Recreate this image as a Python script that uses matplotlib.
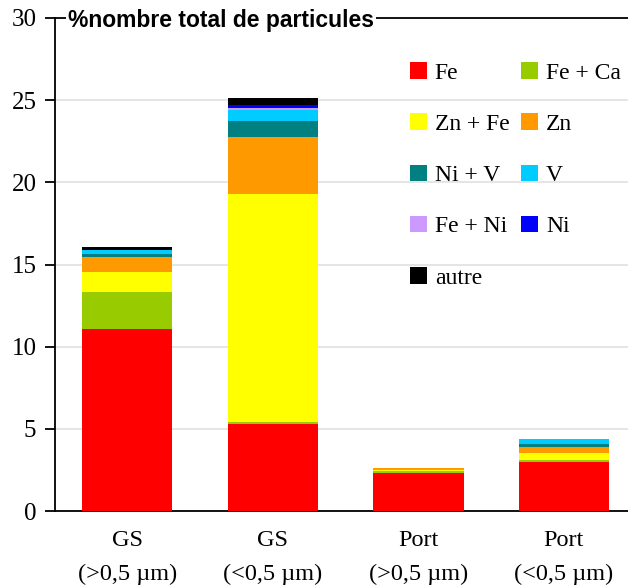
import matplotlib
matplotlib.use("Agg")
import matplotlib.pyplot as plt
import numpy as np

# stacked shares (% of total particle count), bottom to top
categories = ["GS\n(>0,5 µm)", "GS\n(<0,5 µm)", "Port\n(>0,5 µm)", "Port\n(<0,5 µm)"]
labels = ["Fe", "Fe + Ca", "Zn + Fe", "Zn", "Ni + V", "V", "Fe + Ni", "Ni", "autre"]
colors = ["#FF0000", "#99CC00", "#FFFF00", "#FF9900", "#008080",
          "#00CCFF", "#CC99FF", "#0000FF", "#000000"]

fe     = [11.08, 5.30, 2.31, 2.98]
fe_ca  = [2.25, 0.12, 0.12, 0.12]
zn_fe  = [1.22, 13.87, 0.06, 0.43]
zn     = [0.91, 3.47, 0.12, 0.37]
ni_v   = [0.18, 0.98, 0.0, 0.18]
v      = [0.25, 0.67, 0.0, 0.30]
fe_ni  = [0.0, 0.12, 0.0, 0.0]
ni     = [0.0, 0.18, 0.0, 0.0]
autre  = [0.18, 0.43, 0.0, 0.0]
series = [fe, fe_ca, zn_fe, zn, ni_v, v, fe_ni, ni, autre]

serif = ["Liberation Serif", "DejaVu Serif"]

fig = plt.figure(figsize=(6.28, 5.85), dpi=100)
ax = fig.add_axes([54.5 / 628, 74 / 585, 1 - 54.5 / 628, (511 - 18) / 585])

x = np.arange(len(categories))
bottom = np.zeros(len(categories))
handles = []
for vals, lab, col in zip(series, labels, colors):
    h = ax.bar(x, vals, bottom=bottom, width=0.62, color=col, label=lab, zorder=3)
    handles.append(h)
    bottom += np.array(vals)

ax.set_xlim(-0.5, 3.44)
ax.set_ylim(0, 30)
ax.set_yticks(range(0, 31, 5))
ax.yaxis.grid(True, color="#e0e0e0", linewidth=1.2, zorder=0)
ax.set_axisbelow(True)

ax.spines["right"].set_visible(False)
for s in ["left", "bottom", "top"]:
    ax.spines[s].set_linewidth(1.3)
    ax.spines[s].set_color("black")

ax.tick_params(axis="y", length=7, width=1.3, pad=6)
ax.tick_params(axis="x", length=0, pad=14)
ax.set_xticks(x)
ax.set_xticklabels(categories, fontfamily=serif, fontsize=17.5, linespacing=1.75)
for t in ax.get_yticklabels():
    t.set_fontfamily(serif)
    t.set_fontsize(18)

fig.text(68 / 628, 1 - 21 / 585, "%nombre total de particules", fontfamily="Liberation Sans",
         fontweight="bold", fontsize=16.5, va="center", ha="left",
         bbox=dict(facecolor="white", edgecolor="none", pad=1.5), zorder=10)

order = [0, 2, 4, 6, 8, 1, 3, 5, 7]
leg = ax.legend([handles[i] for i in order], [labels[i] for i in order], ncol=2,
                loc="upper left", bbox_to_anchor=(410 / 628, 1 - 62 / 585),
                bbox_transform=fig.transFigure, frameon=False,
                prop={"family": serif, "size": 17},
                handlelength=0.7, handleheight=0.7, handletextpad=0.35,
                labelspacing=1.26, columnspacing=0.5, borderpad=0, borderaxespad=0)

fig.savefig("out.png", dpi=100, facecolor="white")
